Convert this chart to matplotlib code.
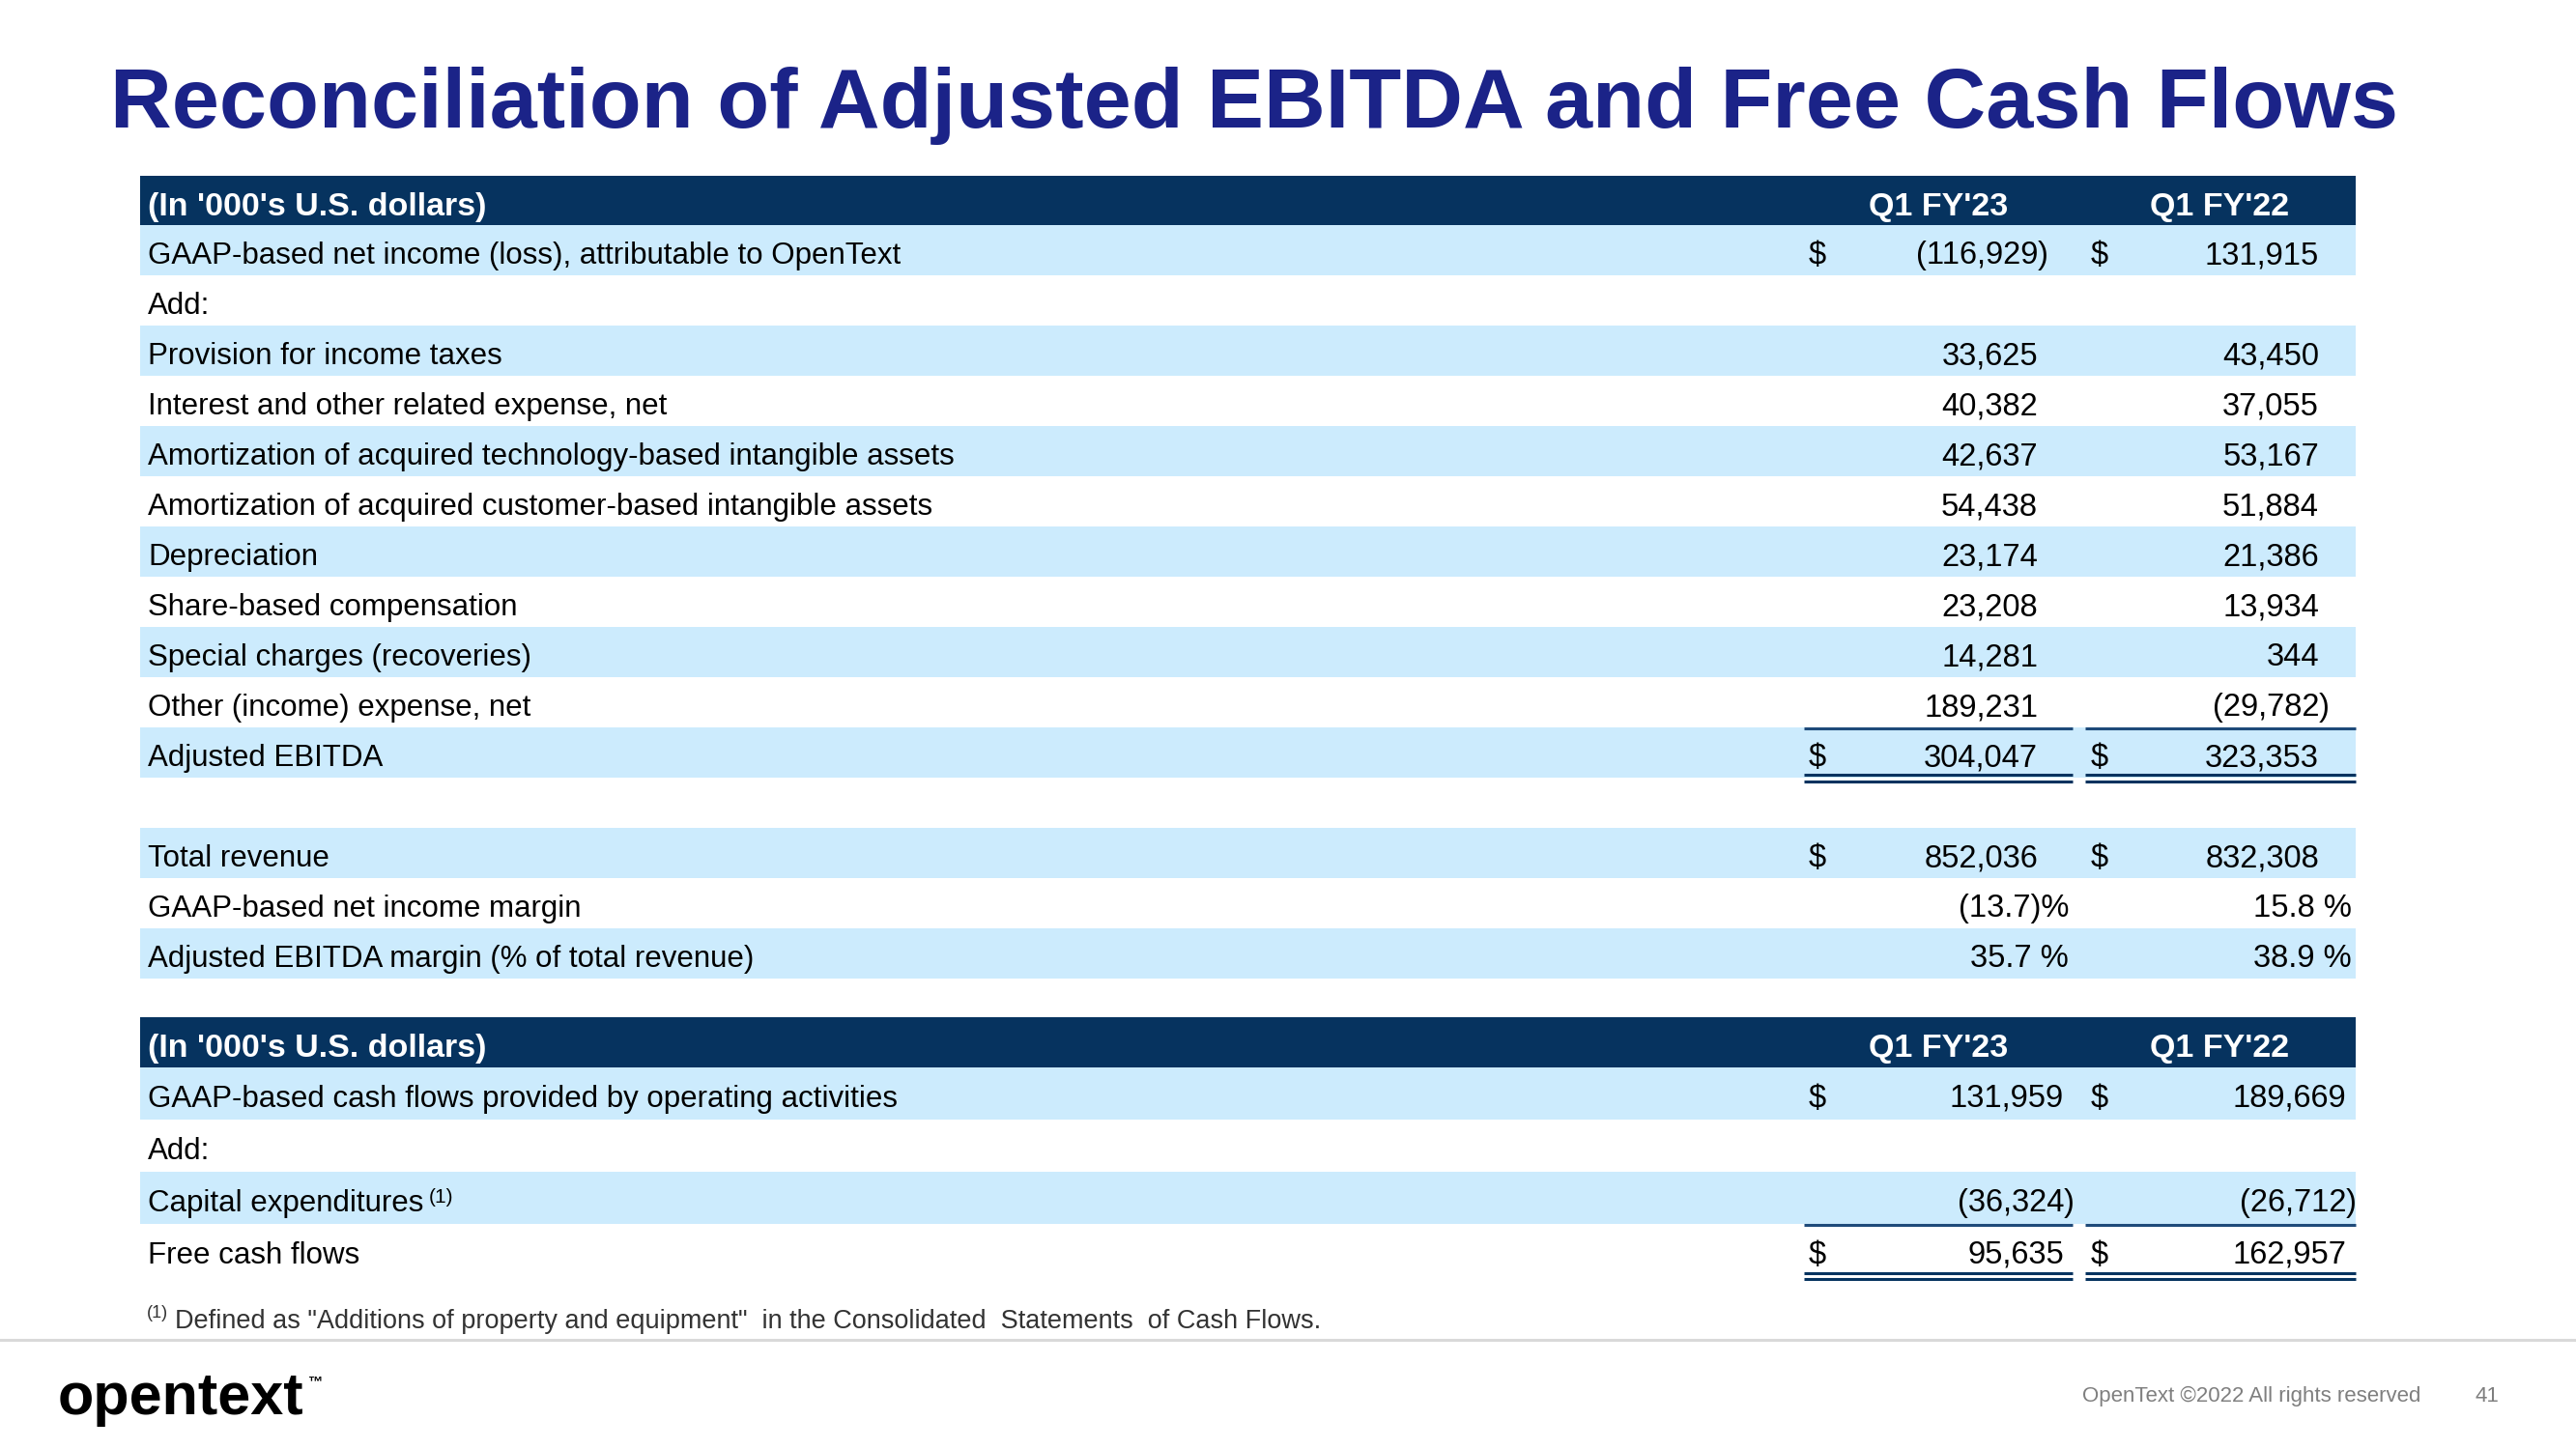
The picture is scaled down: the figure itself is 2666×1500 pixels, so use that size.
import matplotlib
matplotlib.use("Agg")
import matplotlib.pyplot as plt
from matplotlib.patches import Rectangle

# Data
title = "Reconciliation of Adjusted EBITDA and Free Cash Flows"
unit_label = "(In '000's U.S. dollars)"
periods = ["Q1 FY'23", "Q1 FY'22"]

ebitda_labels = [
    "GAAP-based net income (loss), attributable to OpenText",
    "Add:",
    "Provision for income taxes",
    "Interest and other related expense, net",
    "Amortization of acquired technology-based intangible assets",
    "Amortization of acquired customer-based intangible assets",
    "Depreciation",
    "Share-based compensation",
    "Special charges (recoveries)",
    "Other (income) expense, net",
    "Adjusted EBITDA",
    "",
    "Total revenue",
    "GAAP-based net income margin",
    "Adjusted EBITDA margin (% of total revenue)",
]
ebitda_fy23 = [-116929, None, 33625, 40382, 42637, 54438, 23174, 23208,
               14281, 189231, 304047, None, 852036, -13.7, 35.7]
ebitda_fy22 = [131915, None, 43450, 37055, 53167, 51884, 21386, 13934,
               344, -29782, 323353, None, 832308, 15.8, 38.9]
ebitda_dollar_rows = [0, 10, 12]
ebitda_pct_rows = [13, 14]

cash_labels = [
    "GAAP-based cash flows provided by operating activities",
    "Add:",
    "Capital expenditures",
    "Free cash flows",
]
cash_fy23 = [131959, None, -36324, 95635]
cash_fy22 = [189669, None, -26712, 162957]
cash_dollar_rows = [0, 3]

footnote = "Defined as \"Additions of property and equipment\"  in the Consolidated  Statements  of Cash Flows."
footer_text = "OpenText \u00a92022 All rights reserved"
page_no = "41"

# Style
NAVY = "#06335f"
LIGHT = "#ccebfd"
TITLE_C = "#1b2388"
FONT = "Liberation Sans"
FS_LAB = 22.5
FS_NUM = 23.5
FS_HEAD = 24.5

W, H = 2666, 1500
fig = plt.figure(figsize=(W / 100, H / 100), dpi=100)
ax = fig.add_axes([0, 0, 1, 1])
ax.set_xlim(0, W)
ax.set_ylim(H, 0)
ax.axis("off")

x_left, x_right = 145, 2438
x_label = 153
col_spans = [(1867, 2145), (2158, 2438)]
col_dollar = [1872, 2164]
col_head = [2006, 2297]


def fmt_put(x_num, x_pct, y, v, pct):
    if v is None:
        return
    kw = dict(va="baseline", fontsize=FS_NUM, family=FONT)
    if pct:
        s = f"({abs(v):.1f})%" if v < 0 else f"{v:.1f} %"
        ax.text(x_pct, y, s, ha="right", **kw)
        return
    s = f"{abs(v):,}"
    if v < 0:
        ax.text(x_num, y, "(" + s, ha="right", **kw)
        ax.text(x_num, y, ")", ha="left", **kw)
    else:
        ax.text(x_num, y, s, ha="right", **kw)


def header(top, h):
    ax.add_patch(Rectangle((x_left, top), x_right - x_left, h, color=NAVY, lw=0))
    base = top + 41
    ax.text(x_label, base, unit_label, color="white", fontweight="bold",
            fontsize=FS_HEAD, family=FONT, va="baseline")
    for xc, p in zip(col_head, periods):
        ax.text(xc, base, p, color="white", fontweight="bold", fontsize=FS_HEAD,
                family=FONT, ha="center", va="baseline")


def rules(y_single, y_double):
    for a, b in col_spans:
        ax.plot([a, b], [y_single, y_single], color="#1f4b7a", lw=2.2, solid_capstyle="butt")
        for yy in y_double:
            ax.plot([a, b], [yy, yy], color=NAVY, lw=2.2, solid_capstyle="butt")


# Title
ax.text(114, 132, title, color=TITLE_C, fontweight="bold", fontsize=63.5,
        family=FONT, va="baseline")

# EBITDA table
head1_top, row_h1 = 182, 52
header(head1_top, 51)
num_x1 = [2109, 2400]
pct_x1 = [2141, 2434]
for i, lab in enumerate(ebitda_labels):
    top = head1_top + 51 + i * row_h1
    if i % 2 == 0 and lab:
        ax.add_patch(Rectangle((x_left, top), x_right - x_left, row_h1, color=LIGHT, lw=0))
    base = top + 40
    ax.text(x_label, base, lab, fontsize=FS_LAB, family=FONT, va="baseline")
    if i in ebitda_dollar_rows:
        for xd in col_dollar:
            ax.text(xd, base, "$", fontsize=FS_NUM, family=FONT, va="baseline")
    pct = i in ebitda_pct_rows
    fmt_put(num_x1[0], pct_x1[0], base, ebitda_fy23[i], pct)
    fmt_put(num_x1[1], pct_x1[1], base, ebitda_fy22[i], pct)

adj_top = head1_top + 51 + 10 * row_h1
rules(adj_top + 1, [adj_top + 49, adj_top + 56])

# Cash flow table
head2_top, row_h2 = 1053, 54
header(head2_top, 52)
num_x2 = [2136, 2428]
for i, lab in enumerate(cash_labels):
    top = head2_top + 52 + i * row_h2
    if i % 2 == 0:
        ax.add_patch(Rectangle((x_left, top), x_right - x_left, row_h2, color=LIGHT, lw=0))
    base = top + 41
    t = ax.text(x_label, base, lab, fontsize=FS_LAB, family=FONT, va="baseline")
    if i == 2:
        ax.annotate("(1)", xy=(1, 1), xycoords=t, xytext=(4, 1), textcoords="offset points",
                    fontsize=15, family=FONT, va="top", ha="left")
    if i in cash_dollar_rows:
        for xd in col_dollar:
            ax.text(xd, base, "$", fontsize=FS_NUM, family=FONT, va="baseline")
    fmt_put(num_x2[0], 0, base, cash_fy23[i], False)
    fmt_put(num_x2[1], 0, base, cash_fy22[i], False)

fcf_top = head2_top + 52 + 3 * row_h2
rules(fcf_top + 1, [fcf_top + 51, fcf_top + 57])

# Footnote
ax.text(152, 1364, "(1)", fontsize=13, family=FONT, color="#333333", va="baseline")
ax.text(181, 1375, footnote, fontsize=19.5, family=FONT, color="#333333", va="baseline")

# Footer
ax.plot([0, W], [1387, 1387], color="#d9d9d9", lw=2.2)
ax.text(60, 1464, "opentext", fontsize=44, fontweight="bold", family=FONT,
        color="black", va="baseline")
ax.text(318, 1434, "\u2122", fontsize=11, fontweight="bold", family=FONT,
        color="black", va="baseline")
ax.text(2155, 1451, footer_text, fontsize=16, family=FONT, color="#7f7f7f", va="baseline")
ax.text(2562, 1451, page_no, fontsize=16, family=FONT, color="#7f7f7f", va="baseline")

fig.savefig("out.png", dpi=100)
